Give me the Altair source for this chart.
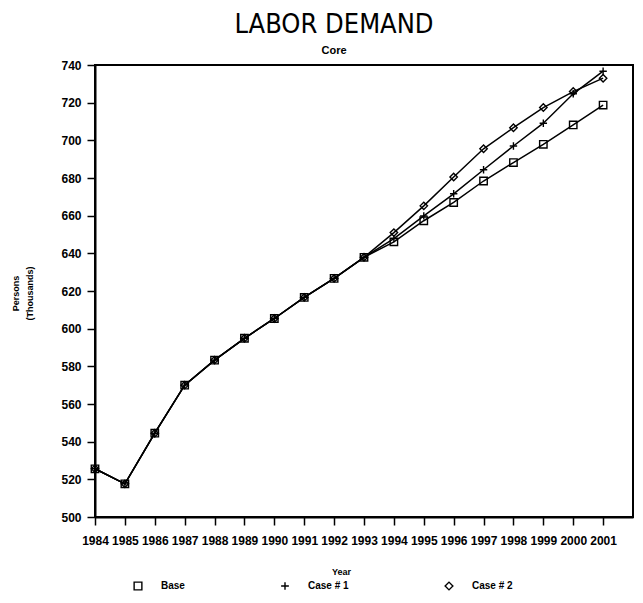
import altair as alt
import pandas as pd

# ---- data ----
years = list(range(1984, 2002))
series_names = ["Base", "Case # 1", "Case # 2"]
# common history 1984-1993
history = [525.6, 517.6, 544.5, 570.0, 583.3, 594.9, 605.4, 616.6, 626.7, 637.9]
# projections 1994-2001
base_future = [646.1, 657.3, 667.0, 678.4, 688.2, 697.9, 708.2, 718.7]
case1_future = [647.8, 659.9, 671.6, 684.4, 697.0, 709.1, 724.7, 736.7]
case2_future = [651.0, 665.2, 680.5, 695.5, 706.7, 717.4, 725.9, 733.0]
y_ticks = list(range(500, 741, 20))

rows = []
for name, fut in zip(series_names, [base_future, case1_future, case2_future]):
    for yr, v in zip(years, history + fut):
        rows.append({"Year": yr, "Persons": v, "series": name})
df = pd.DataFrame(rows)

FONT = "Liberation Sans"
NARROW = "Liberation Sans Narrow, DejaVu Sans Condensed, sans-serif"
PLUS = "M-1,0H1M0,-1V1"

x_enc = alt.X(
    "Year:Q",
    scale=alt.Scale(domain=[1984, 2002], nice=False, zero=False),
    axis=alt.Axis(
        values=years, format="d", labelOverlap=False, labelFlush=False,
        title="Year", titleX=246, titleY=57, titleBaseline="alphabetic",
        titleFontSize=9, titleFontWeight="bold",
    ),
)
y_enc = alt.Y(
    "Persons:Q",
    scale=alt.Scale(domain=[500, 740], nice=False, zero=False),
    axis=alt.Axis(
        values=y_ticks, format="d",
        title=["Persons", "(Thousands)"], titleX=-84, titleY=228,
        titleAngle=270, titleAlign="center", titleBaseline="top",
        titleFontSize=9, titleFontWeight="bold", titleLineHeight=14,
    ),
)

lines = alt.Chart(df).mark_line(color="black", strokeWidth=1.5).encode(
    x=x_enc, y=y_enc, detail="series:N"
)
points = alt.Chart(df).mark_point(
    filled=False, color="black", size=55, strokeWidth=1.4, opacity=1
).encode(
    x=x_enc, y=y_enc,
    shape=alt.Shape(
        "series:N",
        scale=alt.Scale(domain=series_names, range=["square", PLUS, "diamond"]),
        legend=alt.Legend(
            title=None, orient="none", legendX=38, legendY=516,
            direction="horizontal", columns=3, gridAlign="none",
            columnPadding=93, labelOffset=18, symbolSize=60,
            symbolStrokeColor="black", symbolFillColor="transparent",
            symbolStrokeWidth=1.4, labelFont=FONT, labelFontSize=10,
            labelFontWeight="bold", labelColor="black",
        ),
    ),
)

chart = alt.layer(lines, points).properties(
    width=538, height=452,
    autosize=alt.AutoSizeParams(type="none"),
    padding={"left": 87, "top": 57, "right": 2, "bottom": 76},
    title=alt.TitleParams(
        text="LABOR DEMAND", subtitle="Core", anchor="middle", dx=-30,
        font=NARROW, fontSize=27, fontWeight="normal", color="black",
        subtitleFont=FONT, subtitleFontSize=11, subtitleFontWeight="bold",
        subtitleColor="black", subtitlePadding=6, offset=2,
    ),
).configure_view(stroke="black", strokeWidth=2).configure_axis(
    domainColor="black", domainWidth=2, tickColor="black", tickWidth=1.5,
    tickSize=8, grid=False, labelFont=FONT, labelFontSize=12,
    labelFontWeight="bold", labelColor="black", labelPadding=6,
    titleFont=FONT, titleColor="black",
).configure_axisX(labelPadding=10)

chart.save("out.html", embed_options={"renderer": "svg", "actions": False})
